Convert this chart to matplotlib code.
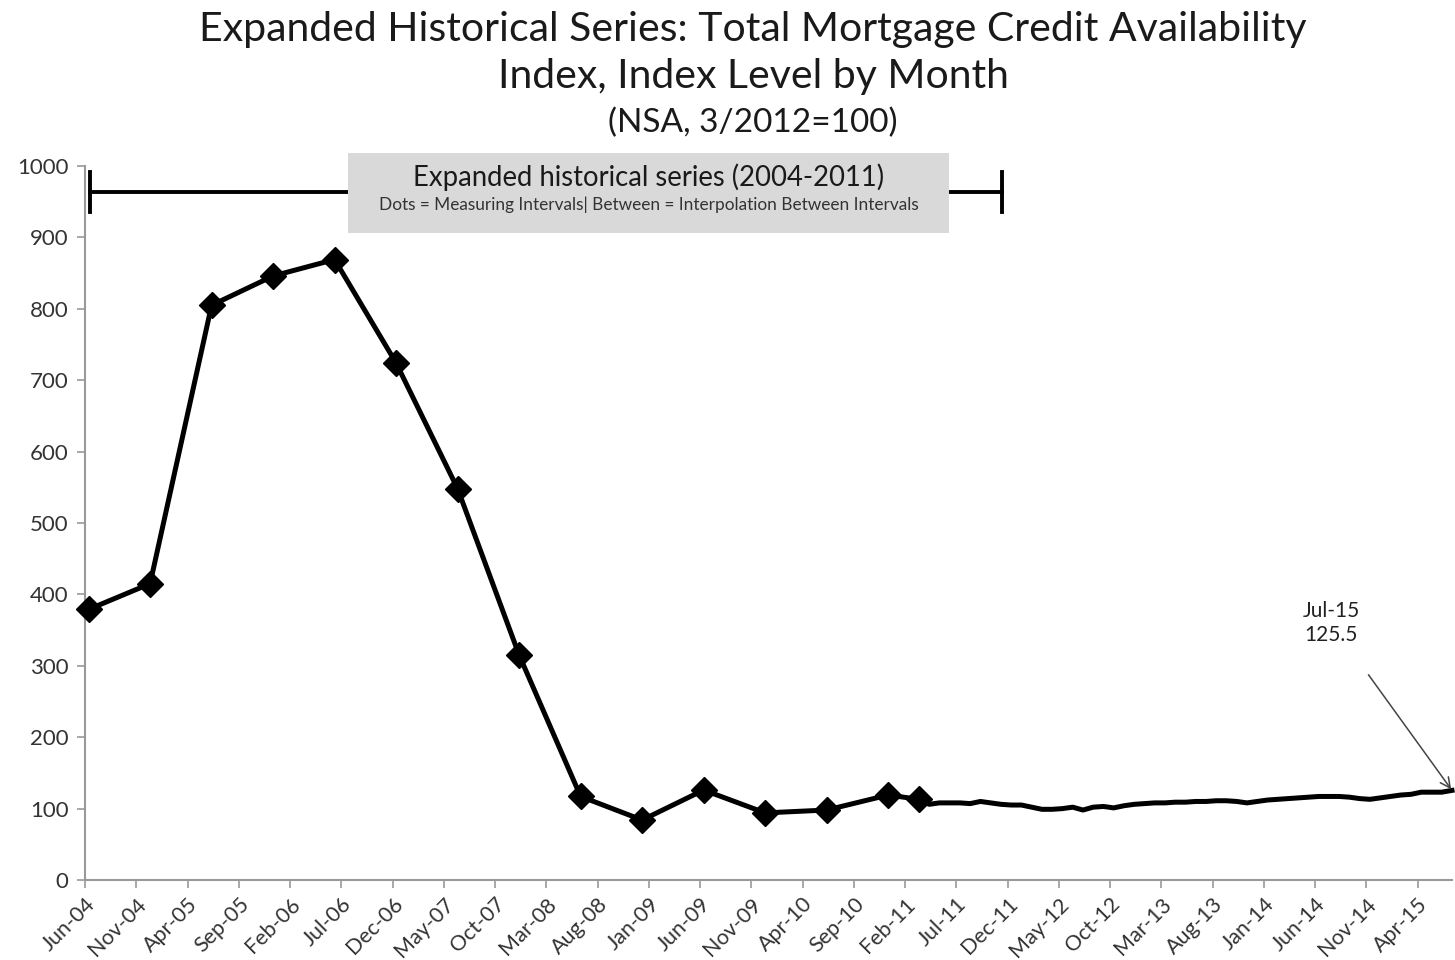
import matplotlib
matplotlib.use("Agg")
import matplotlib.pyplot as plt
from matplotlib.patches import Rectangle

plt.rcParams["font.family"] = ["Lato", "DejaVu Sans"]

# ---------------------------------------------------------------------------
# Data (month index 0 = Jun-04)
# ---------------------------------------------------------------------------
MONTHS = ["Jan", "Feb", "Mar", "Apr", "May", "Jun",
          "Jul", "Aug", "Sep", "Oct", "Nov", "Dec"]

# measuring intervals of the expanded historical series
dot_months = [0, 6, 12, 18, 24, 30, 36, 42, 48, 54, 60, 66, 72, 78, 81]
dot_values = [379, 415, 805, 846, 869, 724, 548, 315, 117, 84,
              126, 94, 98, 119, 113]

# monthly series after the last measuring interval (Apr-11 .. Jul-15)
monthly_values = [106, 108, 108, 108, 107, 110, 108, 106, 105, 105,
                  102, 99, 99, 100, 102, 98, 102, 103, 101, 104,
                  106, 107, 108, 108, 109, 109, 110, 110, 111, 111,
                  110, 108, 110, 112, 113, 114, 115, 116, 117, 117,
                  117, 116, 114, 113, 115, 117, 119, 120, 123, 123,
                  123, 125.5]
monthly_months = list(range(dot_months[-1] + 1,
                            dot_months[-1] + 1 + len(monthly_values)))

tick_step = 5
tick_offset = 0.35           # points sit mid-month, ticks at month start
bracket_span = (0.1, 89.1)   # 2004-2011 expanded series, in months
bracket_level = 963

line_x = dot_months + monthly_months
line_y = dot_values + monthly_values


def month_label(m):
    idx = 5 + m  # Jun-04 start
    year = 4 + idx // 12
    return f"{MONTHS[idx % 12]}-{year:02d}"


# ---------------------------------------------------------------------------
# Figure
# ---------------------------------------------------------------------------
fig = plt.figure(figsize=(14.55, 9.6), dpi=100)
ax = fig.add_axes([85 / 1455, 80 / 960, 1367 / 1455, 714 / 960])

ax.plot(line_x, line_y, color="black", linewidth=3.6, zorder=3,
        clip_on=False, solid_joinstyle="round")
ax.plot(dot_months, dot_values, linestyle="none", marker="D",
        markersize=13, color="black", zorder=4, clip_on=False)

ax.set_xlim(-tick_offset, 133.0)
ax.set_ylim(0, 1000)

ticks = list(range(0, line_x[-1] + 1, tick_step))
ax.set_xticks([t - tick_offset for t in ticks])
ax.set_xticklabels([month_label(m) for m in ticks], rotation=45,
                   ha="right", rotation_mode="anchor", fontsize=15.5,
                   color="#333333")
ax.set_yticks(range(0, 1001, 100))
ax.tick_params(axis="y", labelsize=16, length=6, width=1.2, pad=6,
               color="#999999", labelcolor="#333333")
ax.tick_params(axis="x", length=6, width=1.2, pad=4,
               color="#999999", labelcolor="#333333")

for side in ("top", "right"):
    ax.spines[side].set_visible(False)
for side in ("left", "bottom"):
    ax.spines[side].set_color("#999999")
    ax.spines[side].set_linewidth(1.5)

# bracket marking the expanded historical series
ax.plot(bracket_span, [bracket_level, bracket_level], color="black",
        linewidth=2.8, clip_on=False, zorder=2)
for bx in bracket_span:
    ax.plot([bx, bx], [bracket_level - 28, bracket_level + 28],
            color="black", linewidth=2.8, clip_on=False, zorder=2)

ax.add_patch(Rectangle((0.1924, 0.906), 0.4396, 0.112,
                       transform=ax.transAxes, facecolor="#d9d9d9",
                       edgecolor="none", clip_on=False, zorder=5))
ax.text(0.4122, 0.985, "Expanded historical series (2004-2011)",
        transform=ax.transAxes, ha="center", va="center", fontsize=19.8,
        color="#1a1a1a", zorder=6)
ax.text(0.4122, 0.946,
        "Dots = Measuring Intervals| Between = Interpolation Between Intervals",
        transform=ax.transAxes, ha="center", va="center", fontsize=12.4,
        color="#333333", zorder=6)

# latest value call-out
ax.annotate(f"{month_label(line_x[-1])}\n{line_y[-1]}",
            xy=(line_x[-1], line_y[-1]), xytext=(121.2, 360),
            ha="center", va="center", fontsize=15, color="#222222",
            linespacing=1.25,
            arrowprops=dict(arrowstyle="->", color="#444444", lw=1.1,
                            shrinkA=24, shrinkB=1, mutation_scale=18))

fig.text(0.5175, 0.969,
         "Expanded Historical Series: Total Mortgage Credit Availability",
         ha="center", va="center", fontsize=29.5, color="#1a1a1a")
fig.text(0.5175, 0.920, "Index, Index Level by Month",
         ha="center", va="center", fontsize=29.5, color="#1a1a1a")
fig.text(0.5175, 0.872, "(NSA, 3/2012=100)",
         ha="center", va="center", fontsize=24, color="#1a1a1a")

fig.savefig("out.png", dpi=100)
